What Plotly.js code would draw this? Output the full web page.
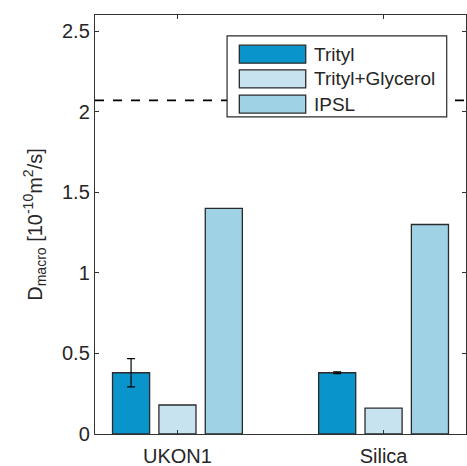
<!DOCTYPE html>
<html>
<head>
<meta charset="utf-8">
<script src="https://cdn.plot.ly/plotly-3.0.1.min.js"></script>
<style>html,body{margin:0;padding:0;background:#fff;}#chart{width:467px;height:466px;}</style>
</head>
<body>
<div id="chart"></div>
<script>
const categories = ["UKON1", "Silica"];
const seriesNames = ["Trityl", "Trityl+Glycerol", "IPSL"];
const trityl = [0.38, 0.38];
const tritylErr = [0.088, 0.005];
const tritylGlycerol = [0.18, 0.16];
const ipsl = [1.40, 1.30];
const referenceLevel = 2.07;
const yTicks = [0, 0.5, 1, 1.5, 2, 2.5];
const yTickLabels = ["0", "0.5", "1", "1.5", "2", "2.5"];

const colors = ["#0a94cc", "#c6e3ef", "#a0d2e6"];
const edge = "#2b2b2b";
const xs = [1, 2];
const barW = 0.18;
const offsets = [-0.315, -0.09, 0.135];
const values = [trityl, tritylGlycerol, ipsl];

const traces = values.map((v, i) => {
  const t = {
    type: "bar", x: xs, y: v, name: seriesNames[i],
    width: barW, offset: offsets[i],
    marker: {color: colors[i], line: {color: edge, width: 1.3}},
    showlegend: false, hoverinfo: "skip"
  };
  if (i === 0) {
    t.error_y = {type: "data", array: tritylErr, visible: true, color: "#000", thickness: 1.2, width: 4};
  }
  return t;
});

const font = {family: "Liberation Sans, Arial, sans-serif", size: 20, color: "#262626"};

const shapes = [
  {type: "line", xref: "paper", yref: "y", x0: 0, x1: 1, y0: referenceLevel, y1: referenceLevel,
   line: {color: "#000", width: 1.8, dash: "dash"}, layer: "above"},
  {type: "rect", xref: "paper", yref: "paper", x0: 0.356, x1: 0.948, y0: 0.757, y1: 0.950,
   fillcolor: "#fff", line: {color: edge, width: 1.2}, layer: "above"}
];
const annotations = [];
const swTop = [0.928, 0.869, 0.809];
seriesNames.forEach((n, i) => {
  shapes.push({type: "rect", xref: "paper", yref: "paper", x0: 0.389, x1: 0.568,
    y0: swTop[i] - 0.043, y1: swTop[i], fillcolor: colors[i], line: {color: edge, width: 1.3}, layer: "above"});
  annotations.push({xref: "paper", yref: "paper", x: 0.585, y: swTop[i] - 0.0215, xanchor: "left", yanchor: "middle",
    text: n, showarrow: false, font: {family: font.family, size: 19, color: "#262626"}});
});

const layout = {
  width: 467, height: 466,
  margin: {l: 95, r: 1, t: 15, b: 32, pad: 0},
  paper_bgcolor: "#fff", plot_bgcolor: "#fff",
  font: font,
  barmode: "overlay",
  xaxis: {
    range: [0.6, 2.4], tickvals: xs, ticktext: categories,
    ticks: "inside", ticklen: 4, tickcolor: "#333", tickwidth: 1,
    showline: true, linecolor: "#333", linewidth: 1.2, mirror: "ticks",
    showgrid: false, zeroline: false, tickfont: font, ticklabelstandoff: 4
  },
  yaxis: {
    range: [0, 2.6], tickvals: yTicks, ticktext: yTickLabels,
    ticks: "inside", ticklen: 4, tickcolor: "#333", tickwidth: 1,
    showline: true, linecolor: "#333", linewidth: 1.2, mirror: "ticks",
    showgrid: false, zeroline: false, tickfont: font,
    title: {text: "D<sub>macro</sub> [10<sup>-10</sup>m<sup>2</sup>/s]", font: font, standoff: 14}
  },
  shapes: shapes,
  annotations: annotations
};

Plotly.newPlot("chart", traces, layout, {staticPlot: true, displayModeBar: false});
</script>
</body>
</html>
